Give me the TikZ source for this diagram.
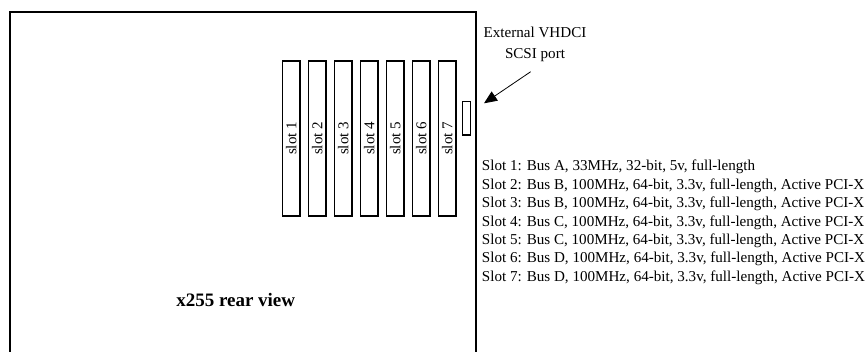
\documentclass[tikz,border=0pt]{standalone}
\usepackage{fontspec}
\setmainfont{Liberation Serif}
\usetikzlibrary{calc,arrows.meta}

\begin{document}
\begin{tikzpicture}[x=1pt,y=-1pt,
        slotbox/.style={draw,line width=1.4pt,rotate=90,inner sep=0pt,
            minimum width=155pt,minimum height=17.5pt,
            font=\fontsize{15}{17}\selectfont},
        desc/.style={anchor=base west,inner sep=0pt,
            font=\fontsize{15.1}{17}\selectfont}]
        \useasboundingbox (0,0) rectangle (867,351);
        % chassis outline
        \draw[line width=1.6pt] (10,365) -- (10,12) -- (476,12) -- (476,365);
        \node[font=\bfseries\fontsize{19}{21}\selectfont] (title) at (235.7,300)
            {x255 rear view};
        % slots
        \foreach \i in {1,...,7}
        \node[slotbox] (slot\i) at ({291.3+26*(\i-1)},138.4) {slot \i};
        \node[draw,line width=1.4pt,inner sep=0pt,minimum width=7.6pt,
            minimum height=33.3pt] (port) at (466.5,118.4) {};
        % scsi label
        \node[align=center,inner sep=0pt,font=\fontsize{15.1}{21}\selectfont]
            (ext) at (535,44) {External VHDCI\\SCSI port};
        \coordinate (tail) at (530.7,71.7);
        \coordinate (tip) at (484,103.3);
        \draw[line width=0.8pt,-{Triangle[length=13pt,width=11pt]}] (tail) -- (tip);
        % slot details
        \node[desc] (d1) at (481.7,170.7)
            {Slot 1: Bus A, 33MHz, 32-bit, 5v, full-length};
        \foreach \i/\b in {2/B,3/B,4/C,5/C,6/D,7/D}
        \node[desc] (d\i) at (481.7,{170.7+18.45*(\i-1)})
            {Slot \i: Bus \b, 100MHz, 64-bit, 3.3v, full-length, Active PCI-X};
    \end{tikzpicture}
\end{document}
